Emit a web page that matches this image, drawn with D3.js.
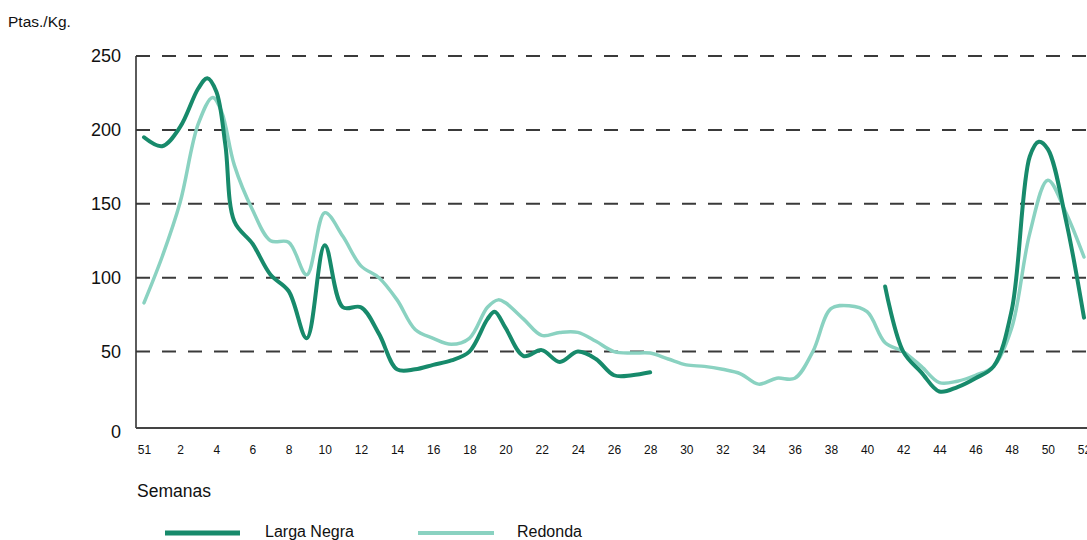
<!DOCTYPE html>
<html>
<head>
<meta charset="utf-8">
<script src="https://cdn.jsdelivr.net/npm/d3@7"></script>
<style>
  html, body { margin: 0; padding: 0; background: #ffffff; }
  svg { display: block; }
  text { font-family: "Liberation Sans", Arial, Helvetica, sans-serif; fill: #111; }
</style>
</head>
<body>
<svg id="chart" width="1087" height="540"></svg>
<script>
// ---- data ----
// week positions on the axis (position 0 is labelled "51")
const tickPositions = [0,2,4,6,8,10,12,14,16,18,20,22,24,26,28,30,32,34,36,38,40,42,44,46,48,50,52];
const tickLabels = ["51","2","4","6","8","10","12","14","16","18","20","22","24","26","28","30","32","34","36","38","40","42","44","46","48","50","52"];
const yTicks = [0, 50, 100, 150, 200, 250];
const seriesNames = ["Larga Negra", "Redonda"];

// Larga Negra (Ptas./Kg.): week positions and prices; null = no quotation (gap)
const largaNegraWeeks = [
  0, 1, 2, 3, 3.5, 4, 4.5, 5, 6, 7, 8, 9, 10, 11, 12, 13, 14, 15, 16, 17, 18, 19, 19.4, 20,
  21, 22, 23, 24, 25, 26, 27, 28, 29,
  41, 42, 43, 44, 45, 46, 47, 48, 49, 49.5, 50, 51, 52
];
const largaNegra = [
  195, 189, 202, 228, 235, 226, 190, 138, 123, 102, 91, 59, 122, 80, 80, 62, 38, 38, 41, 44, 50, 72, 77, 66,
  47, 51, 43, 50, 45, 34, 34, 36, null,
  94, 50, 36, 23, 26, 32, 40, 78, 182, 192, 187, 139, 73
];
// Redonda (Ptas./Kg.)
const redondaWeeks = [
  0, 1, 2, 3, 3.8, 4.3, 5, 6, 7, 8, 9, 10, 11, 12, 13, 14, 15, 16, 17, 18, 19, 19.6, 20,
  21, 22, 23, 24, 25, 26, 27, 28, 29, 30, 31, 32, 33, 34, 35, 36, 37, 38, 39, 40,
  41, 42, 43, 44, 45, 46, 47, 48, 49, 50, 51, 52
];
const redonda = [
  83, 114, 151, 204, 222, 212, 176, 146, 125, 124, 102, 144, 128, 108, 100, 85, 65, 59, 55, 59, 80, 85, 83,
  72, 61, 63, 63, 57, 50, 49, 49, 45, 41, 40, 38, 35, 28, 32, 32, 50, 79, 81, 77,
  56, 50, 40, 29, 30, 34, 40, 66, 130, 166, 144, 114
];

// ---- layout ----
const svg = d3.select("#chart");
const axisX = 136;
const x = d3.scaleLinear().domain([0, 52]).range([144, 1084]);
const y = d3.scaleLinear().domain([0, 250]).range([425.5, 56]);
const baseY = 428;
const colors = { dark: "#178a6b", light: "#8ad2c1" };

// grid lines (dashed)
svg.append("g").selectAll("line")
  .data(yTicks.filter(d => d > 0))
  .join("line")
  .attr("x1", axisX).attr("x2", 1087)
  .attr("y1", d => y(d)).attr("y2", d => y(d))
  .attr("stroke", "#3a3a3a").attr("stroke-width", 2)
  .attr("stroke-dasharray", "14,12");

// y axis line
svg.append("line")
  .attr("x1", axisX).attr("x2", axisX)
  .attr("y1", y(250)).attr("y2", baseY)
  .attr("stroke", "#333").attr("stroke-width", 1.6);
// x axis line
svg.append("line")
  .attr("x1", axisX).attr("x2", 1087)
  .attr("y1", baseY).attr("y2", baseY)
  .attr("stroke", "#444").attr("stroke-width", 2);

// y tick labels
svg.append("g").selectAll("text")
  .data(yTicks)
  .join("text")
  .attr("x", 121)
  .attr("y", d => d === 0 ? baseY + 4 : y(d))
  .attr("dy", "0.36em")
  .attr("text-anchor", "end")
  .attr("font-size", 18)
  .text(d => d);

// x tick labels via axis
const xAxis = d3.axisBottom(x)
  .tickValues(tickPositions)
  .tickFormat((d, i) => tickLabels[i])
  .tickSize(0)
  .tickPadding(0);
const gx = svg.append("g").attr("transform", `translate(0,${baseY + 22})`).call(xAxis);
gx.select(".domain").remove();
gx.selectAll("text")
  .attr("font-size", 12)
  .attr("font-family", "'Liberation Sans', Arial, sans-serif")
  .attr("fill", "#111")
  .attr("dy", "0.35em");

// lines
const line = d3.line()
  .defined(d => d[1] != null)
  .x(d => x(d[0]))
  .y(d => y(d[1]))
  .curve(d3.curveCatmullRom.alpha(0.5));

svg.append("path")
  .datum(redondaWeeks.map((w, i) => [w, redonda[i]]))
  .attr("d", line)
  .attr("fill", "none")
  .attr("stroke", colors.light)
  .attr("stroke-width", 3.5)
  .attr("stroke-linejoin", "round")
  .attr("stroke-linecap", "round");

svg.append("path")
  .datum(largaNegraWeeks.map((w, i) => [w, largaNegra[i]]))
  .attr("d", line)
  .attr("fill", "none")
  .attr("stroke", colors.dark)
  .attr("stroke-width", 4)
  .attr("stroke-linejoin", "round")
  .attr("stroke-linecap", "round");

// titles
svg.append("text").attr("x", 8).attr("y", 27).attr("font-size", 15.5).text("Ptas./Kg.");
svg.append("text").attr("x", 137).attr("y", 497).attr("font-size", 17.5).text("Semanas");

// legend
const legend = [
  { name: seriesNames[0], color: colors.dark, x1: 165, x2: 240, tx: 265, w: 5 },
  { name: seriesNames[1], color: colors.light, x1: 418, x2: 494, tx: 517, w: 4 }
];
const lg = svg.append("g").selectAll("g").data(legend).join("g");
lg.append("line")
  .attr("x1", d => d.x1).attr("x2", d => d.x2)
  .attr("y1", 533).attr("y2", 533)
  .attr("stroke", d => d.color).attr("stroke-width", d => d.w);
lg.append("text")
  .attr("x", d => d.tx).attr("y", 537)
  .attr("font-size", 16)
  .text(d => d.name);
</script>
</body>
</html>
